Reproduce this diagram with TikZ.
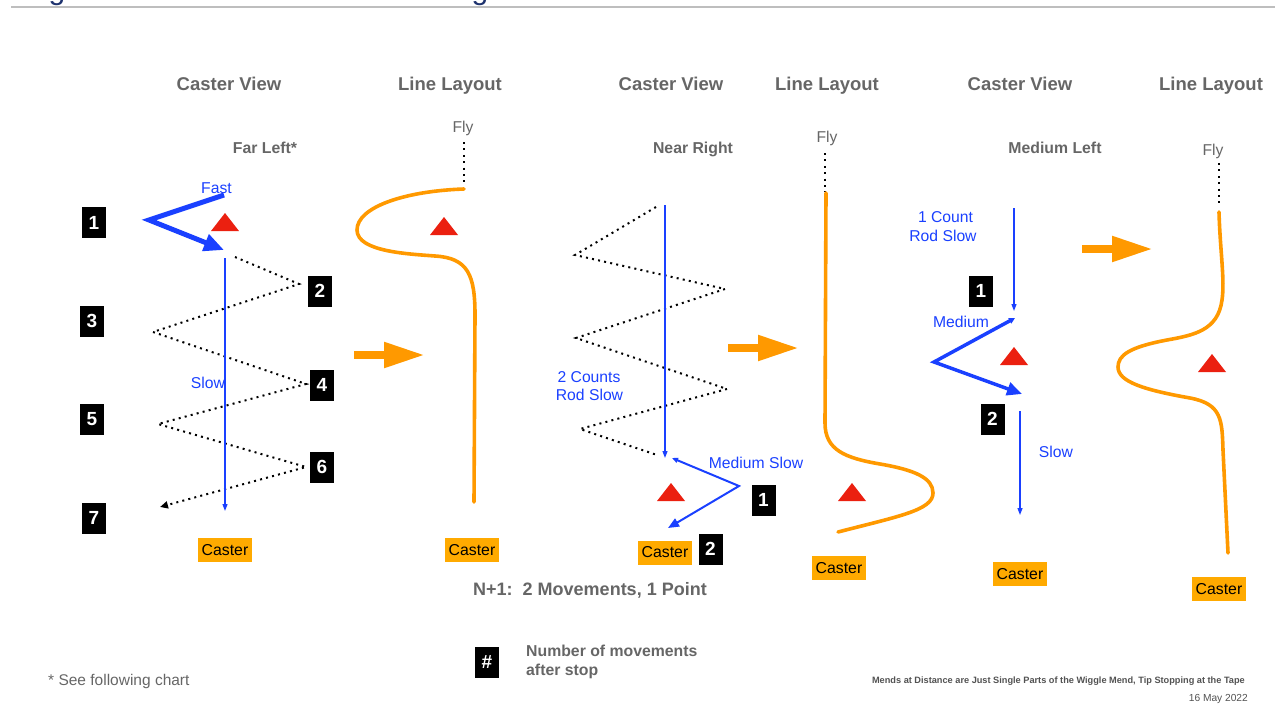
\documentclass[tikz,border=0pt]{standalone}
\usepackage{fontspec}
\setmainfont{Liberation Sans}
\usetikzlibrary{arrows.meta}
\definecolor{rodblue}{RGB}{26,64,255}
\definecolor{flyorange}{RGB}{255,153,0}
\definecolor{casterorange}{RGB}{255,170,0}
\definecolor{conered}{RGB}{235,32,16}
\definecolor{headgrey}{RGB}{102,102,102}
\definecolor{rulegrey}{RGB}{190,190,190}
\definecolor{titlenavy}{RGB}{30,50,110}
% cone marker, given by its apex
\newcommand{\cone}[1]{\fill[conered] (#1) -- ++(14,18) -- ++(-28,0) -- cycle;}

\begin{document}
\begin{tikzpicture}[x=1pt,y=1pt,yscale=-1,
  hdr/.style={text=headgrey,font=\bfseries\fontsize{18.5}{20}\selectfont,inner sep=0,anchor=base},
  sub/.style={text=headgrey,font=\bfseries\fontsize{15.8}{17}\selectfont,inner sep=0,anchor=base},
  bluelbl/.style={text=rodblue,font=\fontsize{15.7}{17}\selectfont,inner sep=0,anchor=base},
  flylbl/.style={text=headgrey,font=\fontsize{15.7}{17}\selectfont,inner sep=0,anchor=base},
  numbox/.style={fill=black,text=white,font=\bfseries\fontsize{19}{19}\selectfont,minimum width=24,minimum height=31,inner sep=0},
  caster/.style={fill=casterorange,font=\fontsize{15.8}{16}\selectfont,minimum width=54,minimum height=24,inner sep=0},
  zig/.style={dash pattern=on 2pt off 4.2pt,line width=2pt},
  flydots/.style={dash pattern=on 2pt off 4.4pt,line width=2pt},
  rod/.style={rodblue,line width=1.2pt,-{Triangle[length=7pt,width=5pt]}},
  flyline/.style={flyorange,line width=3.6pt,line cap=round},
  bigarrow/.style={flyorange,line width=8pt,-{Triangle[length=41pt,width=24pt]}}]
	\useasboundingbox (0,0) rectangle (1275,715);

	%Shape: title rule
	\node[anchor=base,inner sep=0,text=titlenavy,font=\fontsize{30}{30}\selectfont] (ttla) at (57,-1) {g};
	\node[anchor=base,inner sep=0,text=titlenavy,font=\fontsize{30}{30}\selectfont] (ttlb) at (480,-1) {g};
	\draw[rulegrey,line width=1.2pt] (11,7) -- (1275,7);

	% Text Node
	\node[hdr] (cva) at (229,90.6) {Caster View};
	\node[hdr] (lla) at (450,90.6) {Line Layout};
	\node[hdr] (cvb) at (671,90.6) {Caster View};
	\node[hdr] (llb) at (827,90.6) {Line Layout};
	\node[hdr] (cvc) at (1020,90.6) {Caster View};
	\node[hdr] (llc) at (1211,90.6) {Line Layout};
	\node[sub] (fl) at (265,153.7) {Far Left*};
	\node[sub] (nr) at (693,153.7) {Near Right};
	\node[sub] (ml) at (1055,153.7) {Medium Left};

	%%% first cast: far left
	\coordinate (fa) at (224,195);
	\coordinate (fb) at (149,220);
	\coordinate (fc) at (224,250);
	\coordinate (za) at (235,257);
	\coordinate (zb) at (299,284);
	\coordinate (zc) at (153,332);
	\coordinate (zd) at (306,384);
	\coordinate (ze) at (158,424);
	\coordinate (zf) at (306,467);
	\coordinate (zg) at (160,507);
	\coordinate (sa) at (225,258);
	\node[caster] (csa) at (225,550) {Caster};
	\node[bluelbl] (fast) at (216.5,193) {Fast};
	\node[bluelbl] (slowa) at (208,388) {Slow};
	\cone{225,213}
	\draw[rodblue,line width=5pt,line join=miter,-{Triangle[length=20pt,width=17pt]}] (fa) -- (fb) -- (fc);
	\draw[zig,-{Triangle[length=8pt,width=7pt]}] (za) -- (zb) -- (zc) -- (zd) -- (ze) -- (zf) -- (zg);
	\draw[rod] (sa) -- (csa.north |- 0,511);
	\node[numbox] (na1) at (94,222.5) {1};
	\node[numbox] (na2) at (320,291) {2};
	\node[numbox] (na3) at (92,321) {3};
	\node[numbox] (na4) at (322,385) {4};
	\node[numbox] (na5) at (92,419) {5};
	\node[numbox] (na6) at (322,467) {6};
	\node[numbox] (na7) at (94,518) {7};

	%%% first line layout
	\node[flylbl] (flya) at (463,132) {Fly};
	\coordinate (la) at (464,189);
	\draw[flydots] (464,142) -- (464,183);
	\draw[flyline] (la) .. controls (405,191) and (357,207) .. (357,230) .. controls (357,252) and (410,254) .. (435,256) .. controls (468,258) and (475,275) .. (475,315) -- (474,502);
	\cone{444,217}
	\draw[bigarrow] (354,355) -- (425,355);
	\node[caster] (csb) at (472,550) {Caster};

	%%% second cast: near right
	\coordinate (ya) at (656,207);
	\coordinate (yb) at (575,255);
	\coordinate (yc) at (725,289);
	\coordinate (yd) at (576,338);
	\coordinate (ye) at (727,389);
	\coordinate (yf) at (580,429);
	\coordinate (yg) at (657,455);
	\coordinate (sb) at (665,205);
	\coordinate (sc) at (665,458);
	\coordinate (ma) at (672,458);
	\coordinate (mb) at (739,486);
	\coordinate (mc) at (668,528);
	\draw[zig] (ya) -- (yb) -- (yc) -- (yd) -- (ye) -- (yf) -- (yg);
	\draw[rod] (sb) -- (sc);
	\draw[rodblue,line width=2pt,{Triangle[length=6pt,width=5pt]}-{Triangle[length=11pt,width=9pt]}] (ma) -- (mb) -- (mc);
	\node[bluelbl,align=center] (cnt2) at (589,382) {2 Counts};
	\node[bluelbl,align=center] (rod2) at (589.5,400.5) {Rod Slow};
	\node[bluelbl] (mslow) at (756,468) {Medium Slow};
	\cone{671,483}
	\node[numbox] (nb1) at (763.5,500) {1};
	\node[caster] (csc) at (665,552.5) {Caster};
	\node[numbox] (nb2) at (710.5,549) {2};

	%%% second line layout
	\node[flylbl] (flyb) at (827,142) {Fly};
	\coordinate (lb) at (826,193);
	\draw[flydots] (825,153) -- (825,192);
	\draw[flyline] (lb) -- (825,423) .. controls (825,450) and (845,458) .. (880,464) .. controls (915,470) and (933,478) .. (933,493) .. controls (933,510) and (900,516) .. (838,532);
	\cone{852,483}
	\draw[bigarrow] (728,348) -- (799,348);
	\node[caster] (csd) at (839,568) {Caster};

	%%% third cast: medium left
	\coordinate (sd) at (1014,208);
	\coordinate (se) at (1014,311);
	\coordinate (ka) at (1015,318);
	\coordinate (kb) at (934,362);
	\coordinate (kc) at (1022,394);
	\coordinate (sf) at (1020,411);
	\coordinate (sg) at (1020,515);
	\draw[rod] (sd) -- (se);
	\draw[rodblue,line width=3.5pt,{Triangle[length=6pt,width=6pt]}-{Triangle[length=15pt,width=13pt]}] (ka) -- (kb) -- (kc);
	\draw[rod] (sf) -- (sg);
	\node[bluelbl] (cnt1) at (945.5,222) {1 Count};
	\node[bluelbl] (rod1) at (943,241) {Rod Slow};
	\node[bluelbl] (med) at (961,327) {Medium};
	\node[bluelbl] (slowc) at (1056,457) {Slow};
	\node[numbox] (nc1) at (981,291) {1};
	\node[numbox] (nc2) at (992.5,419) {2};
	\cone{1014,347}
	\node[caster] (cse) at (1020,574) {Caster};

	%%% third line layout
	\node[flylbl] (flyc) at (1213,155) {Fly};
	\coordinate (lc) at (1219,212);
	\draw[flydots] (1219,163) -- (1219,206);
	\draw[flyline] (lc) .. controls (1220,250) and (1225,280) .. (1222,300) .. controls (1218,330) and (1195,335) .. (1167,340) .. controls (1130,347) and (1118,355) .. (1118,367) .. controls (1118,382) and (1145,390) .. (1190,398) .. controls (1222,404) and (1222,420) .. (1223,450) -- (1228,553);
	\cone{1212,354}
	\draw[bigarrow] (1082,249) -- (1153,249);
	\node[caster] (csf) at (1219,589) {Caster};

	% Text Node
	\node[text=headgrey,font=\bfseries\fontsize{18}{20}\selectfont,inner sep=0] (npo) at (590,590) {N+1:\ \ 2 Movements, 1 Point};
	\node[numbox] (hash) at (487,662) {\#};
	\node[anchor=west,align=left,text=headgrey,font=\bfseries\fontsize{15.8}{19.5}\selectfont,inner sep=0] (nmv) at (526,662) {Number of movements\\after stop};
	\node[anchor=west,text=headgrey,font=\fontsize{15.5}{17}\selectfont,inner sep=0] (see) at (48,681) {* See following chart};
	\node[anchor=east,text=headgrey!80!black,font=\bfseries\fontsize{9.2}{10}\selectfont,inner sep=0] (mends) at (1245,681) {Mends at Distance are Just Single Parts of the Wiggle Mend, Tip Stopping at the Tape};
	\node[anchor=east,text=headgrey!80!black,font=\fontsize{10.2}{11}\selectfont,inner sep=0] (date) at (1248,699) {16 May 2022};
\end{tikzpicture}
\end{document}
